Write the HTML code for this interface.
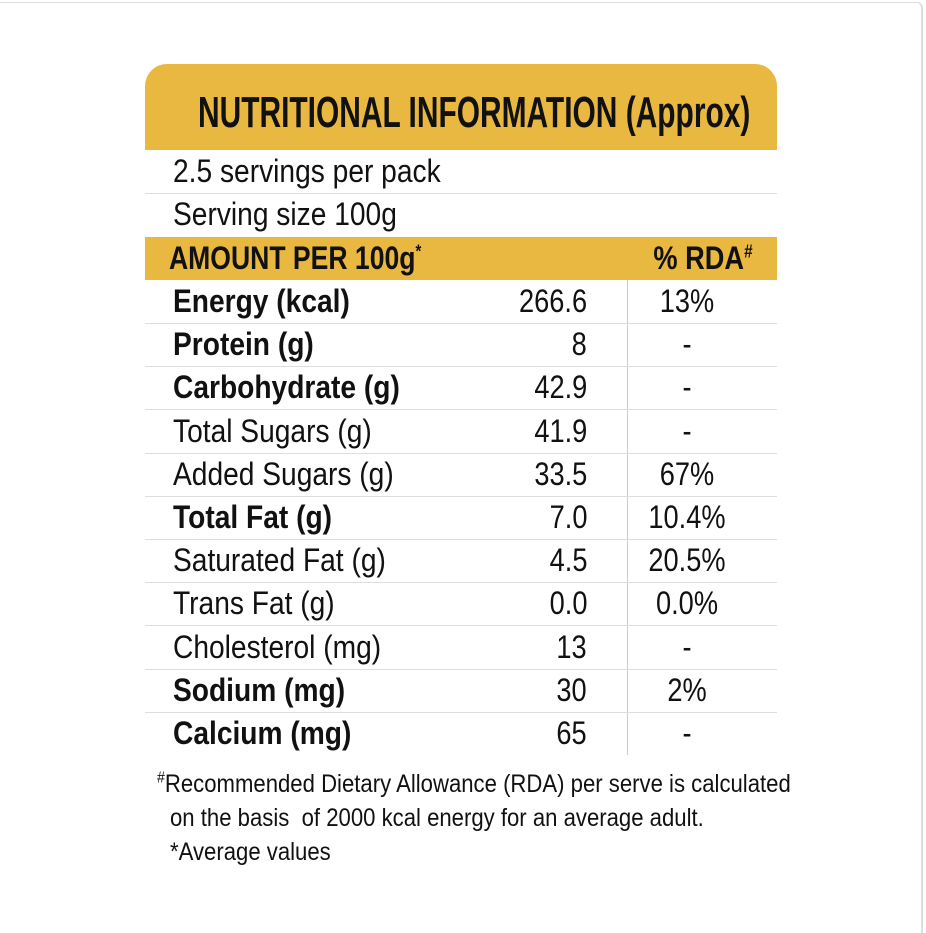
<!DOCTYPE html>
<html><head><meta charset="utf-8"><style>
body{margin:0;width:926px;height:926px;background:#fff;position:relative;overflow:hidden;font-family:"Liberation Sans Narrow","Liberation Sans",sans-serif;color:#111}
.a{position:absolute;white-space:nowrap}
.row{position:absolute;left:145px;width:632px;height:43px;border-bottom:1px solid #ddd}
.lbl{position:absolute;left:28px;top:1px;font-size:32px;line-height:40px;transform:scaleX(0.88);transform-origin:left center;white-space:nowrap}
.b{font-weight:bold}
.val{position:absolute;right:190px;top:1px;font-size:32px;line-height:40px;transform:scaleX(0.85);transform-origin:right center}
.rda{position:absolute;left:482px;width:120px;text-align:center;top:1px;font-size:32px;line-height:40px;transform:scaleX(0.85);transform-origin:center}
sup{line-height:0}
</style></head><body>
<div class="a" style="left:0;top:2px;width:921px;height:930px;border-top:1px solid #ddd;border-right:2px solid #ddd;border-radius:0 6px 0 0"></div>
<div class="a" style="left:145px;top:64px;width:632px;height:86px;background:#E8B841;border-radius:22px 22px 0 0"></div>
<div class="a b" style="left:198px;top:86px;font-size:44px;line-height:54px;transform:scaleX(0.68);transform-origin:left">NUTRITIONAL INFORMATION (Approx)</div>
<div class="row" style="top:150px"><div class="lbl">2.5 servings per pack</div></div>
<div class="row" style="top:193px;border-bottom:none"><div class="lbl">Serving size 100g</div></div>
<div class="row" style="top:237px;background:#E8B841;border:none"><div class="lbl b" style="left:24px;transform:scaleX(0.83)">AMOUNT PER 100g<sup style="font-size:18px">*</sup></div><div class="rda b" style="left:498px">% RDA<sup style="font-size:18px">#</sup></div></div>
<div class="a" style="left:627px;top:280px;width:1px;height:475px;background:#ccc"></div>
<div id="rows"></div>
<div class="a" style="left:157px;top:768px;font-size:25px;line-height:32px;transform:scaleX(0.885);transform-origin:left"><sup style="font-size:16px">#</sup>Recommended Dietary Allowance (RDA) per serve is calculated</div>
<div class="a" style="left:170px;top:802px;font-size:25px;line-height:32px;transform:scaleX(0.885);transform-origin:left">on the basis&nbsp; of 2000 kcal energy for an average adult.</div>
<div class="a" style="left:170px;top:836px;font-size:25px;line-height:32px;transform:scaleX(0.885);transform-origin:left">*Average values</div>
<script>
const names=["Energy (kcal)","Protein (g)","Carbohydrate (g)","Total Sugars (g)","Added Sugars (g)","Total Fat (g)","Saturated Fat (g)","Trans Fat (g)","Cholesterol (mg)","Sodium (mg)","Calcium (mg)"];
const values=["266.6","8","42.9","41.9","33.5","7.0","4.5","0.0","13","30","65"];
const rdas=["13%","-","-","-","67%","10.4%","20.5%","0.0%","-","2%","-"];
const bold=[1,1,1,0,0,1,0,0,0,1,1];
const c=document.getElementById('rows');
names.forEach((n,i)=>{
const r=document.createElement('div');r.className='row';r.style.top=(280+i*43.2)+'px';
if(i==names.length-1)r.style.borderBottom='none';


const l=document.createElement('div');l.className='lbl'+(bold[i]?' b':'');l.textContent=n;


const v=document.createElement('div');v.className='val';v.textContent=values[i];


const d=document.createElement('div');d.className='rda';d.textContent=rdas[i];


r.append(l,v,d);c.appendChild(r);});
</script>
</body></html>
